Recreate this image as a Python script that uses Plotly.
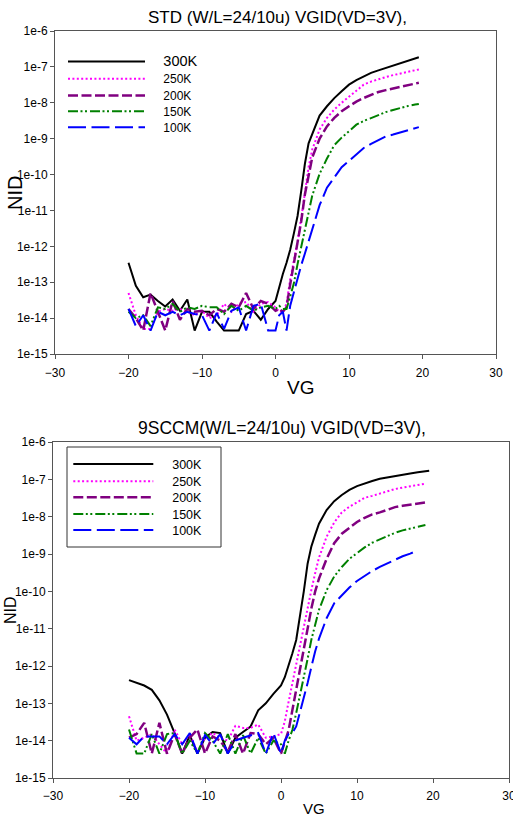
import plotly.graph_objects as go

# ---------------- data ----------------
VG = [-20, -19, -18, -17, -16, -15, -14, -13, -12, -11, -10, -9, -8, -7, -6, -5, -4, -3, -2, -1, 0,
      0.5, 1, 1.5, 2, 2.5, 3, 3.5, 4, 4.5, 5,
      6, 7, 8, 9, 10, 11, 12, 13, 14, 15, 16, 17, 18, 19, 19.5]

LABELS = ["300K", "250K", "200K", "150K", "100K"]

STD_300K = [3.5e-13, 8e-14, 3.8e-14, 4.5e-14, 3e-14, 2.1e-14, 3.3e-14, 1.6e-14, 3.3e-14, 4.5e-15, 1.5e-14,
            1.5e-14, 8e-15, 4.5e-15, 4.5e-15, 4.5e-15, 1.3e-14, 1.6e-14, 9e-15, 1.8e-14, 3e-14,
            7.5e-14, 1.7e-13, 3.5e-13, 8e-13, 2.3e-12, 7e-12, 3.5e-11, 2e-10, 7.4e-10, 1.4e-9,
            4.4e-9, 8e-9, 1.35e-8, 2.1e-8, 3.2e-8, 4.3e-8, 5.5e-8, 6.8e-8, 8e-8, 9.3e-8, 1.08e-7,
            1.25e-7, 1.45e-7, 1.75e-7, 1.85e-7]
STD_250K = [5e-14, 1.2e-14, 5e-15, 5e-15, 1.5e-14, 1.8e-14, 1.6e-14, 1.8e-14, 1.5e-14, 1.2e-14, 1.6e-14,
            1e-14, 1.2e-14, 2.5e-14, 1.5e-14, 2.5e-14, 2.8e-14, 1.5e-14, 2.5e-14, 2.8e-14, 2e-14,
            1.5e-14, 1.5e-14, 2.5e-14, 1.2e-13, 4e-13, 1.3e-12, 6e-12, 3.5e-11, 1.6e-10, 5e-10,
            1.8e-9, 3.8e-9, 6.5e-9, 1e-8, 1.5e-8, 2.2e-8, 3.2e-8, 3.9e-8, 4.6e-8, 5.2e-8, 5.9e-8,
            6.6e-8, 7.4e-8, 8.2e-8, 8.5e-8]
STD_200K = [1.8e-14, 1e-14, 4.5e-15, 5e-14, 1.5e-14, 4.5e-15, 3e-14, 9e-15, 1.8e-14, 1.5e-14, 1.6e-14,
            1.2e-14, 1.8e-14, 1.5e-14, 2.5e-14, 2e-14, 5e-14, 1.8e-14, 3e-14, 2.5e-14, 1.6e-14,
            1.8e-14, 1.5e-14, 2e-14, 8.7e-14, 3.4e-13, 1.1e-12, 5e-12, 2.8e-11, 1e-10, 3e-10,
            1e-9, 2.2e-9, 3.8e-9, 5.8e-9, 8e-9, 1.08e-8, 1.36e-8, 1.66e-8, 2e-8, 2.25e-8, 2.5e-8,
            2.8e-8, 3.15e-8, 3.5e-8, 3.6e-8]
STD_150K = [1.5e-14, 1e-14, 1.2e-14, 6e-15, 2e-14, 1.8e-14, 2.5e-14, 1.5e-14, 2e-14, 1.8e-14, 2.2e-14,
            2e-14, 2e-14, 1.3e-14, 2.2e-14, 1.6e-14, 2.2e-14, 1.6e-14, 2e-14, 2.2e-14, 1.8e-14,
            2.2e-14, 1.8e-14, 1.8e-14, 4e-14, 9.3e-14, 3.2e-13, 1e-12, 3.3e-12, 1e-11, 2.6e-11,
            1.05e-10, 2.8e-10, 6.6e-10, 1.07e-9, 1.6e-9, 2.45e-9, 3.1e-9, 3.8e-9, 4.7e-9, 5.5e-9,
            6.3e-9, 7.2e-9, 8.1e-9, 8.9e-9, 9.3e-9]
STD_100K = [1.8e-14, 6e-15, 1.2e-14, 4.5e-15, 1.5e-14, 1.2e-14, 1.5e-14, 1.2e-14, 1.5e-14, 1.3e-14, 1.2e-14,
            4.5e-15, 1.4e-14, 5e-15, 1.6e-14, 2e-14, 4.5e-15, 2.2e-14, 2.5e-14, 4.5e-15, 4.5e-15,
            1.2e-14, 1.5e-14, 4.5e-15, 2.2e-14, 5.6e-14, 1.35e-13, 3e-13, 6.3e-13, 1.4e-12, 3.2e-12,
            1.4e-11, 4.3e-11, 8.1e-11, 1.6e-10, 2.4e-10, 3.6e-10, 5.5e-10, 7.2e-10, 9.1e-10, 1.15e-9,
            1.3e-9, 1.5e-9, 1.75e-9, 2e-9, 2.1e-9]

CCM_300K = [4.2e-13, 3.6e-13, 3e-13, 2.3e-13, 1.2e-13, 5e-14, 1.6e-14, 4.5e-15, 1.4e-14, 4.5e-15, 1.2e-14,
            1.7e-14, 1.6e-14, 4.5e-15, 1.2e-14, 1.7e-14, 2.4e-14, 6.5e-14, 1e-13, 1.8e-13, 3e-13,
            5e-13, 1e-12, 2.2e-12, 5e-12, 2e-11, 1e-10, 5.5e-10, 1.6e-9, 3.3e-9, 6.5e-9,
            1.5e-8, 2.6e-8, 3.8e-8, 5.2e-8, 6.6e-8, 7.8e-8, 9e-8, 1.03e-7, 1.13e-7, 1.24e-7, 1.34e-7,
            1.44e-7, 1.54e-7, 1.64e-7, 1.7e-7]
CCM_250K = [4.5e-14, 1e-14, 1.2e-14, 1.5e-14, 8e-15, 4.5e-15, 2e-14, 8e-15, 1.5e-14, 5e-15, 1.2e-14,
            1.6e-14, 1.2e-14, 1e-14, 2.5e-14, 2.2e-14, 2.2e-14, 2.7e-14, 1.2e-14, 1.3e-14, 1.5e-14,
            3.3e-14, 1.1e-13, 3.6e-13, 1.1e-12, 3.5e-12, 1.1e-11, 3.5e-11, 1.1e-10, 3.1e-10, 8e-10,
            2.9e-9, 7e-9, 1.3e-8, 1.85e-8, 2.4e-8, 3.2e-8, 3.6e-8, 4.2e-8, 4.9e-8, 5.5e-8, 6e-8,
            6.6e-8, 7.1e-8, 7.6e-8, None]
CCM_200K = [1.2e-14, 1.5e-14, 3e-14, 4.5e-15, 3e-14, 4.5e-15, 1.5e-14, 4.5e-15, 1.2e-14, 2e-14, 4.5e-15,
            1.3e-14, 1e-14, 5e-15, 1.5e-14, 4.5e-15, 1.6e-14, 1.5e-14, 8e-15, 1.2e-14, 4.5e-15,
            1e-14, 1.9e-14, 6.6e-14, 2.3e-13, 7.6e-13, 2.9e-12, 1.15e-11, 3.5e-11, 1e-10, 2.2e-10,
            7.4e-10, 1.95e-9, 3.5e-9, 5e-9, 7.2e-9, 9.3e-9, 1.15e-8, 1.3e-8, 1.5e-8, 1.8e-8, 1.95e-8,
            2.1e-8, 2.25e-8, 2.4e-8, None]
CCM_150K = [2e-14, 4.5e-15, 4.5e-15, 1.5e-14, 4.5e-15, 1.5e-14, 1.6e-14, 4.5e-15, 1e-14, 4.5e-15, 1.6e-14,
            1e-14, 4.5e-15, 1.5e-14, 4.5e-15, 1.4e-14, 4.5e-15, 1.2e-14, 4.5e-15, 1e-14, 8e-15,
            4.5e-15, 1e-14, 1.95e-14, 5.5e-14, 1.6e-13, 4.9e-13, 1.55e-12, 5.1e-12, 1.35e-11, 3.2e-11,
            1.07e-10, 2.5e-10, 4.5e-10, 7.4e-10, 1.05e-9, 1.5e-9, 2e-9, 2.45e-9, 3e-9, 3.7e-9, 4.3e-9,
            4.8e-9, 5.5e-9, 6e-9, None]
CCM_100K = [1.2e-14, 8e-15, 1.3e-14, 1.3e-14, 1.3e-14, 8e-15, 1.5e-14, 8e-15, 1.6e-14, 4.5e-15, 1.4e-14,
            8e-15, 1.5e-14, 4.5e-15, 1e-14, 1.2e-14, 1.4e-14, 1.6e-14, 4.5e-15, 1.6e-14, 4.5e-15,
            1e-14, 1.5e-14, 1.6e-14, 2.4e-14, 5.6e-14, 1.4e-13, 3.5e-13, 9.5e-13, 2.5e-12, 5.4e-12,
            1.9e-11, 4.8e-11, 8e-11, 1.26e-10, 1.9e-10, 2.6e-10, 3.5e-10, 4.5e-10, 5.6e-10, 7.2e-10,
            8.7e-10, 1.02e-9, 1.25e-9, None, None]

X_TICKS = [-30, -20, -10, 0, 10, 20, 30]
Y_TICKS = [1e-15, 1e-14, 1e-13, 1e-12, 1e-11, 1e-10, 1e-9, 1e-8, 1e-7, 1e-6]
Y_TICKTEXT = ["1e-15", "1e-14", "1e-13", "1e-12", "1e-11", "1e-10", "1e-9", "1e-8", "1e-7", "1e-6"]

TITLE_TOP = "STD (W/L=24/10u) VGID(VD=3V),"
TITLE_BOTTOM = "9SCCM(W/L=24/10u) VGID(VD=3V),"

# ---------------- styles ----------------
FONT = "Liberation Sans, Arial, sans-serif"
COLORS = ["#000000", "#FF00FF", "#800080", "#008000", "#0000FF"]
DASHES = ["solid", "2px,2.4px", "10px,3.5px", "10px,2.5px,2px,2.5px,2px,3px", "18px,5.5px"]
WIDTHS = [2, 2, 2.5, 2, 2]
W, H = 513, 816
NB = "\u00a0"


def px_x(p):
    return p / W


def px_y(p):
    return 1 - p / H


fig = go.Figure()

top_series = [STD_300K, STD_250K, STD_200K, STD_150K, STD_100K]
bot_series = [CCM_300K, CCM_250K, CCM_200K, CCM_150K, CCM_100K]
# one legend box per entry so the rows can sit as close together as in the original
TOP_LEGENDS = ["legend", "legend3", "legend4", "legend5", "legend6"]
TOP_LEGEND_TOPS = [47, 64.3, 81, 96.7, 112.7]
BOT_LEGENDS = ["legend2", "legend7", "legend8", "legend9", "legend10"]
BOT_LEGEND_TOPS = [449.3, 466.7, 482.7, 499.3, 515.3]

for i, (lab, ys) in enumerate(zip(LABELS, top_series)):
    name = NB * 4 + (f"<span style='font-size:14.5px'>{lab}</span>" if i == 0 else lab)
    fig.add_trace(go.Scatter(x=VG, y=ys, mode="lines", name=name,
                             line=dict(color=COLORS[i], dash=DASHES[i], width=WIDTHS[i]),
                             xaxis="x", yaxis="y", legend=TOP_LEGENDS[i]))

for i, (lab, ys) in enumerate(zip(LABELS, bot_series)):
    fig.add_trace(go.Scatter(x=VG, y=ys, mode="lines", name=NB * 4 + lab,
                             line=dict(color=COLORS[i], dash=DASHES[i], width=WIDTHS[i]),
                             xaxis="x2", yaxis="y2", legend=BOT_LEGENDS[i]))

axis_common = dict(showgrid=False, zeroline=False, showline=True, linecolor="#555555",
                   linewidth=1, mirror=True, ticks="outside", ticklen=4, tickcolor="#555555",
                   automargin=False, ticklabeloverflow="allow",
                   tickfont=dict(family=FONT, size=12, color="#000"))

layout = dict(
    template="none",
    width=W, height=H, margin=dict(l=0, r=0, t=0, b=0, pad=0),
    paper_bgcolor="white", plot_bgcolor="white",
    font=dict(family=FONT, color="#000"),
    showlegend=True,
    xaxis=dict(domain=[px_x(55), px_x(496)], range=[-30, 30], tickvals=X_TICKS, anchor="y",
               ticklabelstandoff=4, **axis_common),
    yaxis=dict(domain=[px_y(354), px_y(31)], type="log", range=[-15, -6], tickvals=Y_TICKS,
               ticktext=Y_TICKTEXT, anchor="x", **axis_common),
    xaxis2=dict(domain=[px_x(53), px_x(509)], range=[-30, 30], tickvals=X_TICKS, anchor="y2",
                ticklabelstandoff=3, **axis_common),
    yaxis2=dict(domain=[px_y(778), px_y(442)], type="log", range=[-15, -6], tickvals=Y_TICKS,
                ticktext=Y_TICKTEXT, anchor="x2", **axis_common),
    shapes=[dict(type="rect", xref="paper", yref="paper",
                 x0=px_x(67), x1=px_x(221), y0=px_y(547), y1=px_y(447),
                 line=dict(color="#333333", width=1), fillcolor="white", layer="below")],
)
for lg, top in zip(TOP_LEGENDS, TOP_LEGEND_TOPS):
    layout[lg] = dict(x=px_x(63), y=px_y(top), xanchor="left", yanchor="top",
                      bgcolor="rgba(0,0,0,0)", borderwidth=0, itemwidth=77,
                      font=dict(family=FONT, size=12), tracegroupgap=0)
for lg, top in zip(BOT_LEGENDS, BOT_LEGEND_TOPS):
    layout[lg] = dict(x=px_x(68.3), y=px_y(top), xanchor="left", yanchor="top",
                      bgcolor="rgba(0,0,0,0)", borderwidth=0, itemwidth=80,
                      font=dict(family=FONT, size=12.5), tracegroupgap=0)
fig.update_layout(**layout)

annotations = [
    dict(text=TITLE_TOP, x=px_x(277), y=px_y(17), font=dict(size=17)),
    dict(text=TITLE_BOTTOM, x=px_x(282), y=px_y(428), font=dict(size=17.5)),
    dict(text="NID", x=px_x(15), y=px_y(193), textangle=-90, font=dict(size=20)),
    dict(text="VG", x=px_x(300), y=px_y(387), font=dict(size=19)),
    dict(text="NID", x=px_x(10), y=px_y(610), textangle=-90, font=dict(size=16)),
    dict(text="VG", x=px_x(314), y=px_y(808), font=dict(size=15)),
]
for a in annotations:
    a.update(xref="paper", yref="paper", xanchor="center", yanchor="middle", showarrow=False)
    a["font"].update(family=FONT, color="#000")
fig.update_layout(annotations=annotations)

fig.write_html("out.html")
